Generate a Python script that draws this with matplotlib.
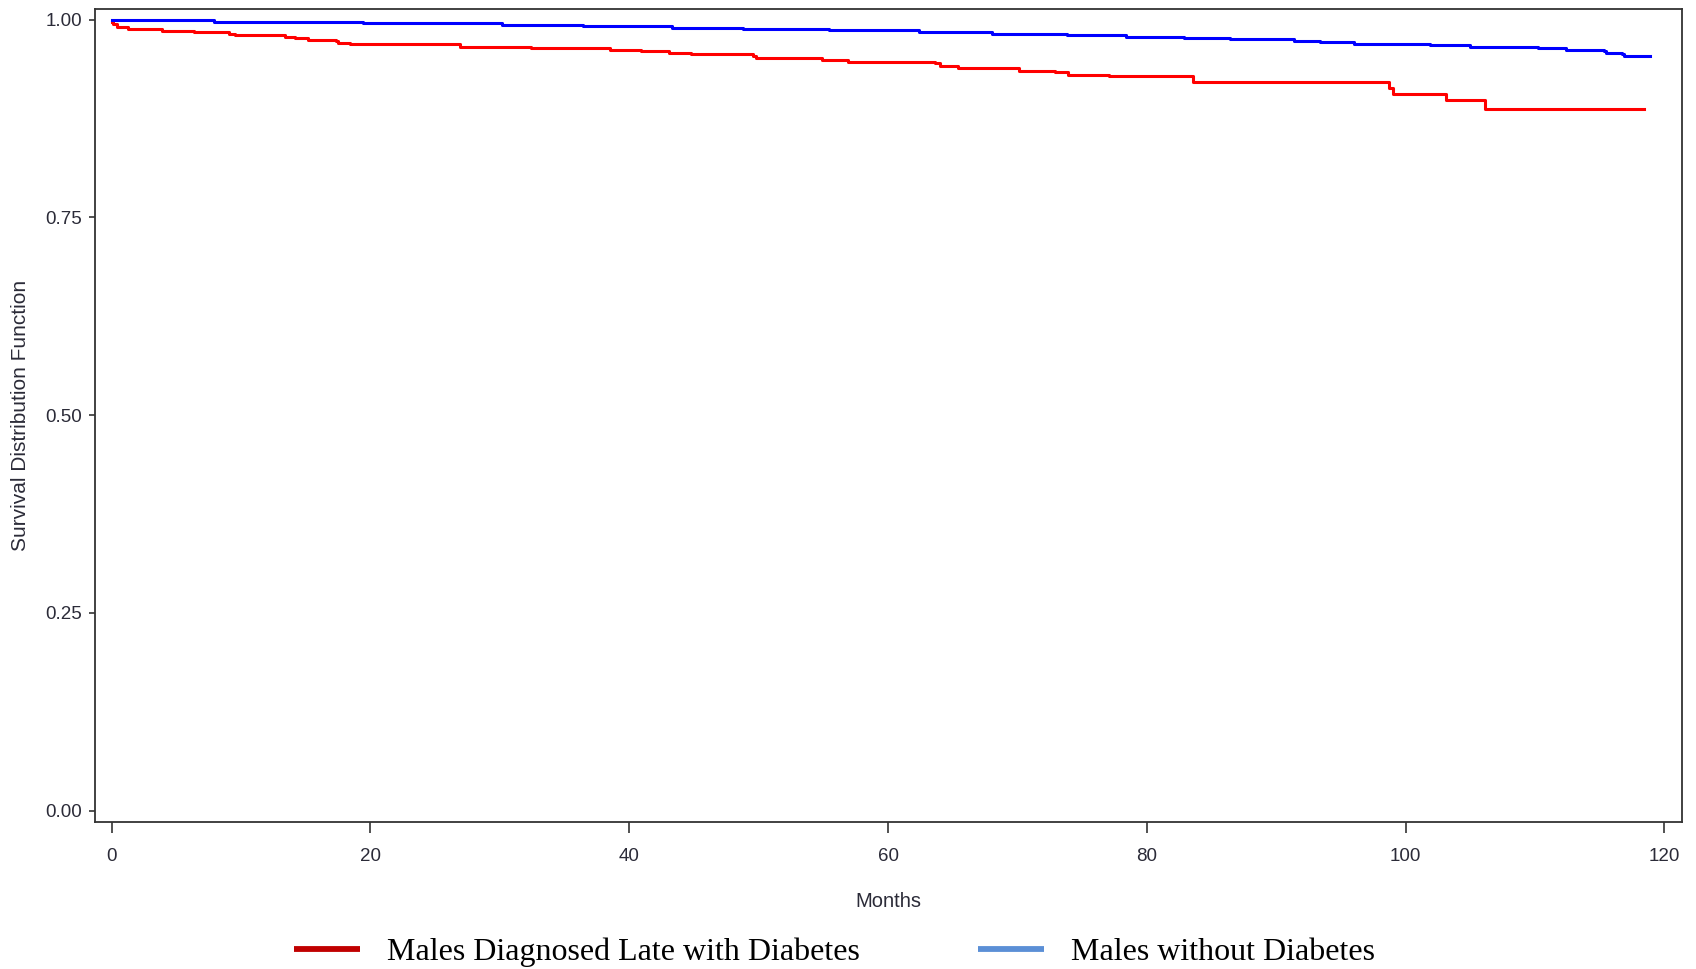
import matplotlib
matplotlib.use('Agg')
from matplotlib import pyplot as plt
from matplotlib.lines import Line2D

# Kaplan-Meier steps (months, survival)
blue_months = [0, 7.9, 19.4, 30.2, 36.4, 43.3, 48.8, 55.4, 62.4, 68.0, 73.8,
               78.4, 82.9, 86.4, 91.4, 93.4, 96.0, 101.9, 105.0, 110.2, 112.4,
               115.3, 115.5, 116.7, 116.9, 118.9]
blue_surv = [1.0, 0.9972, 0.9952, 0.993, 0.9914, 0.9896, 0.988, 0.9863, 0.9846,
             0.982, 0.9804, 0.9785, 0.977, 0.975, 0.9733, 0.9711, 0.969, 0.9674,
             0.9652, 0.9636, 0.9618, 0.9598, 0.958, 0.956, 0.9542, 0.9542]

red_months = [0, 0.1, 0.4, 1.3, 3.9, 6.4, 9.1, 9.5, 13.4, 14.2, 15.2, 17.3, 17.5,
              18.4, 26.9, 32.4, 38.5, 40.9, 43.1, 44.8, 49.6, 49.8, 54.9, 56.9,
              63.6, 64.0, 65.4, 70.1, 72.9, 73.9, 77.1, 83.6, 98.7, 99.0, 103.1,
              106.1, 118.4]
red_surv = [0.997, 0.9939, 0.990, 0.988, 0.9859, 0.9842, 0.982, 0.980, 0.9779,
            0.9762, 0.9745, 0.9728, 0.9707, 0.9686, 0.9656, 0.9636, 0.962, 0.9602,
            0.958, 0.956, 0.9534, 0.951, 0.9488, 0.9467, 0.9446, 0.9412, 0.939,
            0.9353, 0.9336, 0.9298, 0.9284, 0.9206, 0.913, 0.9058, 0.8982, 0.8869,
            0.8869]

x_ticks = [0, 20, 40, 60, 80, 100, 120]
y_ticks = [0.0, 0.25, 0.50, 0.75, 1.00]
legend_labels = ['Males Diagnosed Late with Diabetes', 'Males without Diabetes']
legend_colors = ['#C00000', '#5B8FD6']

txt = '#2b2b38'

fig = plt.figure(figsize=(16.96, 9.69), dpi=100)
ax = fig.add_axes([0.056, 0.1517, 0.9357, 0.839])

ax.step(red_months, red_surv, where='post', color='#FF0000', lw=2.2)
ax.step(blue_months, blue_surv, where='post', color='#0000FF', lw=2.2)

ax.set_xlim(-1.29, 121.35)
ax.set_ylim(-0.0145, 1.0133)

ax.set_xticks(x_ticks)
ax.set_xticklabels([str(v) for v in x_ticks], fontsize=13.5, family='Liberation Sans', color=txt)
ax.set_yticks(y_ticks)
ax.set_yticklabels(['%.2f' % v for v in y_ticks], fontsize=13.5, family='Liberation Sans', color=txt)
ax.tick_params(axis='x', length=8, width=1.2, pad=11, color='#333333')
ax.tick_params(axis='y', length=4.3, width=1.2, pad=5, color='#333333')

for s in ax.spines.values():
    s.set_color('#333333')
    s.set_linewidth(1.3)

ax.set_xlabel('Months', fontsize=14.5, family='Liberation Sans', color=txt, labelpad=19)
ax.set_ylabel('Survival Distribution Function', fontsize=15, family='Liberation Sans',
              color=txt, labelpad=11)

# legend pasted under the plot
handles = [Line2D([], [], color=c, lw=4.2, solid_capstyle='butt') for c in legend_colors]
fig.legend(handles, legend_labels, loc='center', bbox_to_anchor=(0.492, 0.017),
           ncol=2, frameon=False, handlelength=2.06, handletextpad=0.85,
           columnspacing=3.7, prop={'family': 'Liberation Serif', 'size': 23})

fig.savefig('out.png', dpi=100)
